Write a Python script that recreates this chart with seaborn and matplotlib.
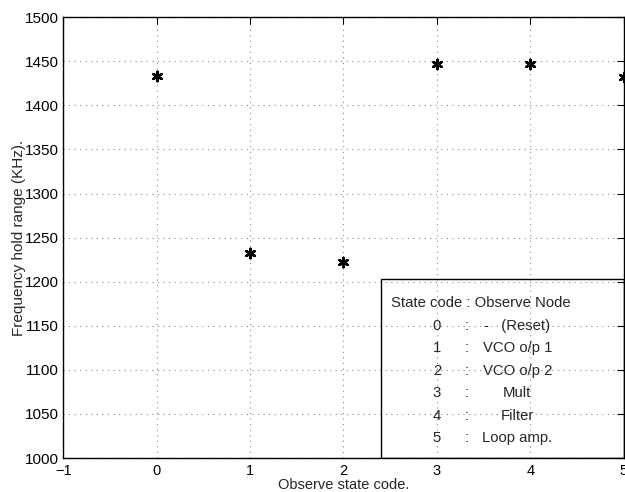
import matplotlib
matplotlib.use("Agg")
import matplotlib.pyplot as plt
import seaborn as sns
import pandas as pd
from matplotlib.patches import Rectangle

state_codes = [0, 1, 2, 3, 4, 5]
hold_range = [1433, 1233, 1222, 1447, 1447, 1432]
legend_codes = ["0", "1", "2", "3", "4", "5"]
legend_nodes = ["-   (Reset)", "VCO o/p 1", "VCO o/p 2", "Mult", "Filter", "Loop amp."]
x_ticks = [-1, 0, 1, 2, 3, 4, 5]
y_ticks = [1000, 1050, 1100, 1150, 1200, 1250, 1300, 1350, 1400, 1450, 1500]

sns.set_style("white")
plt.rcParams['font.family'] = ['Liberation Sans', 'DejaVu Sans']

df = pd.DataFrame({"code": state_codes, "range": hold_range})

fig = plt.figure(figsize=(6.25, 4.92), dpi=100)
ax = fig.add_axes([0.101, 0.069, 0.897, 0.896])
sns.scatterplot(data=df, x="code", y="range", ax=ax, marker=(6, 2, 0), s=45,
                color="black", linewidth=1.8, edgecolor="black", clip_on=False, zorder=5)

ax.set_xlim(-1, 5)
ax.set_ylim(1000, 1500)
ax.set_xticks(x_ticks)
ax.set_yticks(y_ticks)
ax.set_xticklabels([("\u22121" if t < 0 else str(t)) for t in x_ticks], fontsize=10.5)
ax.set_yticklabels([str(t) for t in y_ticks], fontsize=11)
ax.tick_params(direction="in", length=5, width=0.8, top=True, right=True, colors="black")
ax.tick_params(axis="x", pad=4)
ax.tick_params(axis="y", pad=3)
ax.grid(True, linestyle=(0, (1, 4)), color="#888888", linewidth=0.8)
for s in ax.spines.values():
    s.set_color("black")
    s.set_linewidth(1.0)
ax.set_xlabel("Observe state code.", fontsize=10.5)
ax.set_ylabel("Frequency hold range (KHz).", fontsize=11)
ax.xaxis.set_label_coords(0.5, -0.046)
ax.yaxis.set_label_coords(-0.067, 0.5)

ax.add_patch(Rectangle((2.4, 1000), 2.6, 203, fill=False, edgecolor="black", linewidth=1.0, zorder=4))
ax.text(3.47, 1176, "State code : Observe Node", ha="center", va="center", fontsize=10.7)
row_y = [1150, 1125, 1099, 1074, 1048, 1023]
for yy, c, n in zip(row_y, legend_codes, legend_nodes):
    ax.text(3.0, yy, c, ha="center", va="center", fontsize=10.7)
    ax.text(3.32, yy, ":", ha="center", va="center", fontsize=10.7)
    ax.text(3.86, yy, n, ha="center", va="center", fontsize=10.7)

fig.savefig("out.png", dpi=100)
